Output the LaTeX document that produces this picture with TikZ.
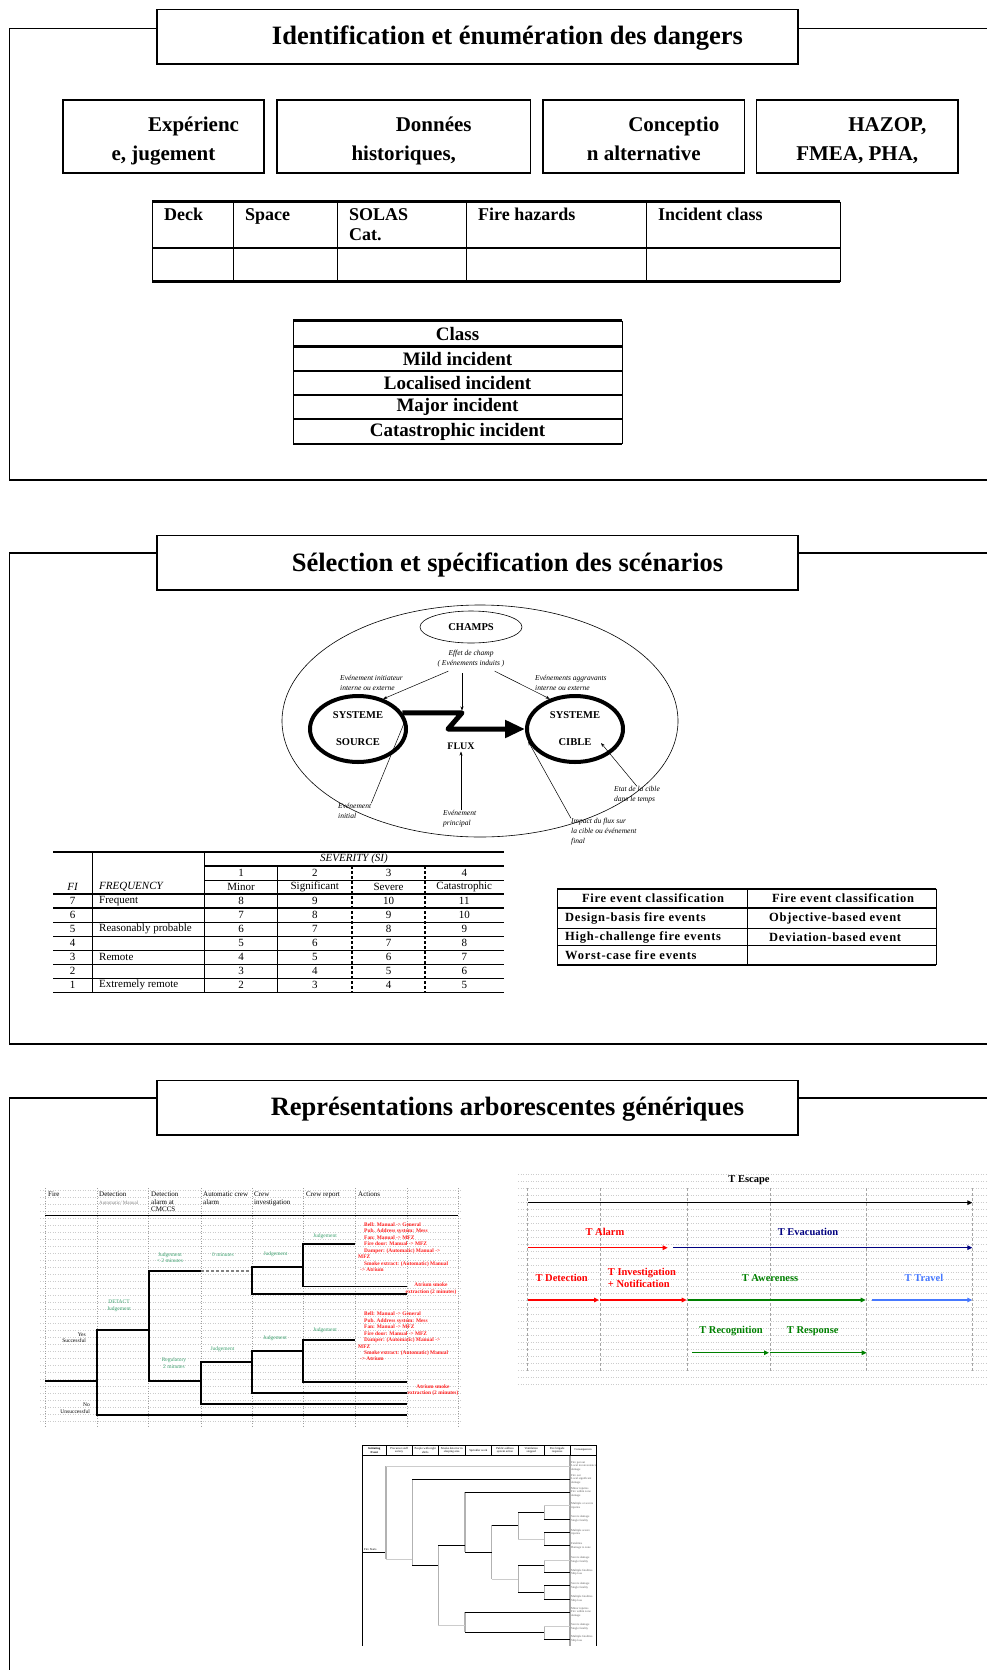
\documentclass[tikz,border=0pt]{standalone}
\usepackage{fontspec}
\setmainfont{Liberation Serif}
\newfontfamily\spacedfont[LetterSpace=6]{Liberation Serif}
\usetikzlibrary{arrows.meta,positioning,calc,shapes.geometric}

\definecolor{evnavy}{RGB}{0,0,128}
\definecolor{evgreen}{RGB}{0,128,0}
\definecolor{evsky}{RGB}{70,120,255}
\definecolor{jgreen}{RGB}{60,160,110}
\definecolor{actred}{RGB}{255,30,30}

\newcommand{\actionlist}{\hspace*{6pt}Bell: Manual -> General\\\hspace*{6pt}Pub. Address system: Mess\\\hspace*{6pt}Fan: Manual -> MFZ\\\hspace*{6pt}Fire door: Manual -> MFZ\\\hspace*{6pt}Damper: (Automatic) Manual ->\\MFZ\\\hspace*{6pt}Smoke extract: (Automatic) Manual\\\hspace*{2pt}-> Atrium}

\tikzset{
  titlebox/.style={draw,line width=1.5pt,fill=white,minimum width=641pt,minimum height=54.5pt,inner sep=0pt},
  titletxt/.style={anchor=base,inner sep=0pt,font=\bfseries\fontsize{26.5}{30}\selectfont},
  srcbox/.style={draw,line width=1.5pt,minimum height=73pt,inner sep=0pt},
  srcline/.style={anchor=base,inner sep=0pt,font=\bfseries\fontsize{21}{29}\selectfont},
  hcell/.style={anchor=north west,inner sep=0pt,align=left,font=\bfseries\fontsize{18}{20}\selectfont},
  ccell/.style={inner sep=0pt,font=\bfseries\fontsize{19}{20}\selectfont},
  sysell/.style={ellipse,draw,line width=4pt,minimum width=96pt,minimum height=66pt,inner sep=0pt,align=center,font=\bfseries\fontsize{10.5}{27}\selectfont},
  itlab/.style={inner sep=0pt,align=left,font=\itshape\fontsize{7.5}{10}\selectfont},
  evarrow/.style={-{Stealth[length=4pt,width=3pt]},line width=0.5pt},
  sevtxt/.style={inner sep=0pt,font=\fontsize{11}{12}\selectfont},
  firetxt/.style={inner sep=0pt,font=\spacedfont\bfseries\fontsize{12.5}{14}\selectfont},
  treehead/.style={anchor=north west,inner sep=0pt,align=left,font=\fontsize{7}{7.5}\selectfont},
  judge/.style={inner sep=0pt,align=center,text=jgreen,font=\fontsize{5.5}{6.5}\selectfont},
  acttxt/.style={anchor=north west,inner sep=0pt,align=left,text=actred,font=\bfseries\fontsize{5.4}{6.43}\selectfont},
  tlab/.style={inner sep=0pt,font=\bfseries\fontsize{10.5}{12}\selectfont},
  tarrow/.style={-{Triangle[length=5pt,width=4.5pt]},line width=1.3pt},
  branch/.style={line width=1.3pt},
  griddots/.style={gray!40,line width=0.4pt,dash pattern=on 0.5pt off 2pt},
  tinytxt/.style={inner sep=0pt,align=left,text=gray!70!black,font=\fontsize{3}{3.6}\selectfont},
}

\begin{document}
\begin{tikzpicture}[x=1pt,y=-1pt]
  \useasboundingbox (0,0) rectangle (987,1670);
  % cadres
  \draw[line width=1.3pt] (987,28.3) -| (9.4,480) -- (987,480);
  \draw[line width=1.3pt] (987,553) -| (9.4,1044) -- (987,1044);
  \draw[line width=1.3pt] (987,1098) -| (9.4,1672);

  % --- identification
  \node[titlebox] (ttl1) at (477.5,36.7) {};
  \node[titletxt] (ttl1t) at (507.5,45) {Identification et énumération des dangers};
  \foreach \nm/\cx/\bw/\la/\lb in {exp/163.5/201/Expérienc/{e, jugement},hist/403.75/253.5/Données/{historiques,},conc/643.75/201.5/Conceptio/n alternative,haz/857.25/201.5/{HAZOP,}/{FMEA, PHA,}}{
    \node[srcbox,minimum width=\bw pt] (\nm) at (\cx,136.5) {};
    \node[srcline] (\nm-a) at (\cx+30,131.5) {\la};
    \node[srcline] (\nm-b) at (\cx,160.5) {\lb};
  }

  % tableau des zones
  \foreach \yy in {201.7,248,281.7} \draw[line width=2.6pt] (152,\yy)--(840,\yy);
  \foreach \xx in {152,233.5,337,466,646,840} \draw[line width=1pt] (\xx,201.7)--(\xx,281.7);
  \node[hcell] (hdeck) at (164,208) {Deck};
  \node[hcell] (hspc) at (245,208) {Space};
  \node[hcell] (hsolas) at (349,208) {SOLAS\\Cat.};
  \node[hcell] (hfire) at (478,208) {Fire hazards};
  \node[hcell] (hcls) at (658,208) {Incident class};

  % classes
  \foreach \yy in {320.7,346.7,444} \draw[line width=2.6pt] (293,\yy)--(622,\yy);
  \foreach \yy in {370.7,395,419} \draw[line width=1.6pt] (293,\yy)--(622,\yy);
  \foreach \xx in {293,622} \draw[line width=1pt] (\xx,320.7)--(\xx,444);
  \foreach \tx/\yy [count=\k] in {Class/333.7,Mild incident/358.7,Localised incident/382.8,Major incident/407,Catastrophic incident/431.5}
    \node[ccell] (cls\k) at (457.5,\yy) {\tx};

  % --- scenarios
  \node[titlebox] (ttl2) at (477.5,562.7) {};
  \node[titletxt] (ttl2t) at (507.5,571) {Sélection et spécification des scénarios};
  \draw[line width=0.6pt] (480,721) ellipse [x radius=198pt,y radius=116pt];
  \node[ellipse,draw,line width=0.6pt,minimum width=102pt,minimum height=32pt,inner sep=0pt,font=\bfseries\fontsize{10.5}{12}\selectfont] (chp) at (471,627) {CHAMPS};
  \node[sysell] (src) at (358,729) {SYSTEME\\SOURCE};
  \node[sysell] (tgt) at (575,729) {SYSTEME\\CIBLE};
  \node[inner sep=0pt,font=\bfseries\fontsize{10}{12}\selectfont] (flx) at (461,746) {FLUX};
  \coordinate (fz1) at (462,712.5);
  \coordinate (fz2) at (448,729);
  \draw[line width=5pt,line join=round,-{Triangle[length=20pt,width=17pt]}] (src.20) -- (src.20 -| fz1) -- (fz2) -- (tgt.west);
  \node[itlab,align=center] (eff) at (471,658.5) {Effet de champ\\( Evénements induits )};
  \node[itlab,anchor=west] (ini) at (340,683) {Evénement initiateur\\interne ou externe};
  \node[itlab,anchor=west] (agg) at (535,683) {Evénements aggravants\\interne ou externe};
  \node[itlab,anchor=west] (inl) at (338,811) {Evénement\\initial};
  \node[itlab,anchor=west] (pri) at (443,819) {Evénement\\principal};
  \node[itlab,anchor=west] (fin) at (571,832) {Impact du flux sur\\la cible ou événement\\final};
  \node[itlab,anchor=west] (eta) at (614,795) {Etat de la cible\\dans le temps};
  \draw[evarrow] ([shift={(11,4)}]eff.south west) -- (src.50);
  \draw[evarrow,shorten <=6pt,shorten >=2pt] (eff.south -| fz1) -- (fz1);
  \draw[evarrow] ([shift={(-10,4)}]eff.south east) -- (tgt.130);
  \draw[evarrow] (inl.north east) -- (src.12);
  \draw[evarrow,shorten >=2pt] (flx.south |- pri.north) -- (flx.south);
  \draw[evarrow] (fin.north west) -- (tgt.195);
  \draw[evarrow] (eta.north) -- ($(tgt.center)+(26,14)$);

  % matrice de risque
  \draw[line width=1.6pt] (53,852)--(503.5,852);
  \draw[line width=1.6pt] (204.5,866)--(503.5,866);
  \draw[line width=0.6pt] (204.5,880)--(503.5,880);
  \foreach \yy in {894,908} \draw[line width=2.4pt] (53,\yy)--(503.5,\yy);
  \foreach \yy in {922,936,950,964,978,992} \draw[line width=0.6pt] (53,\yy)--(503.5,\yy);
  \foreach \xx in {92,204.5} \draw[line width=0.9pt] (\xx,852)--(\xx,992);
  \draw[line width=0.9pt] (277.5,866)--(277.5,992);
  \foreach \xx in {352,425} \draw[line width=1.1pt,densely dashed] (\xx,866)--(\xx,992);
  \node[sevtxt,font=\itshape\fontsize{11}{12}\selectfont] (sevh) at (354,859) {SEVERITY (SI)};
  \foreach \n/\xx in {1/241,2/314.75,3/388.5,4/464.25} \node[sevtxt] (sn\n) at (\xx,873) {\n};
  \foreach \w/\xx [count=\k] in {Minor/241,Significant/314.75,Severe/388.5,Catastrophic/464.25} \node[sevtxt] (sw\k) at (\xx,887) {\w};
  \node[sevtxt,font=\itshape\fontsize{11}{12}\selectfont] (hfi) at (72.5,887) {FI};
  \node[sevtxt,anchor=west,font=\itshape\fontsize{11}{12}\selectfont] (hfreq) at (99,887) {FREQUENCY};
  \foreach \fr/\fq/\va/\vb/\vc/\vd [count=\k] in {7/Frequent/8/9/10/11,6//7/8/9/10,5/Reasonably probable/6/7/8/9,4//5/6/7/8,3/Remote/4/5/6/7,2//3/4/5/6,1/Extremely remote/2/3/4/5}{
    \node[sevtxt] (fi\k) at (72.5,887+14*\k) {\fr};
    \node[sevtxt,anchor=west] (fq\k) at (99,887+14*\k) {\fq};
    \node[sevtxt] (va\k) at (241,887+14*\k) {\va};
    \node[sevtxt] (vb\k) at (314.75,887+14*\k) {\vb};
    \node[sevtxt] (vc\k) at (388.5,887+14*\k) {\vc};
    \node[sevtxt] (vd\k) at (464.25,887+14*\k) {\vd};
  }

  % classification des feux
  \foreach \yy in {888.6,908,965} \draw[line width=2pt] (557,\yy)--(936,\yy);
  \foreach \yy in {928,945.7} \draw[line width=0.8pt] (557,\yy)--(936,\yy);
  \foreach \xx in {557,747.6,936} \draw[line width=0.8pt] (\xx,888.6)--(\xx,965);
  \node[firetxt] (fh1) at (653,898.3) {Fire event classification};
  \node[firetxt] (fh2) at (843,898.3) {Fire event classification};
  \node[firetxt,anchor=west] (fl1) at (565,918) {Design-basis fire events};
  \node[firetxt,anchor=west] (fl2) at (565,937) {High-challenge fire events};
  \node[firetxt,anchor=west] (fl3) at (565,955.5) {Worst-case fire events};
  \node[firetxt,anchor=west] (fr1) at (769,918) {Objective-based event};
  \node[firetxt,anchor=west] (fr2) at (769,937) {Deviation-based event};

  % --- arbres
  \node[titlebox] (ttl3) at (477.5,1107.5) {};
  \node[titletxt] (ttl3t) at (507.5,1115.8) {Représentations arborescentes génériques};

  % arbre d'evenements
  \foreach \yy in {1190,1197,...,1425} \draw[griddots] (40,\yy)--(462,\yy);
  \foreach \xx in {45,97,148,201,252,303,355,407,458} \draw[griddots,gray!75] (\xx,1188)--(\xx,1427);
  \draw[line width=1pt] (45,1215)--(458,1215);
  \node[treehead] (ehfire) at (48,1192) {Fire};
  \node[treehead] (ehdet) at (99,1192) {Detection\\{\color{gray}\fontsize{5}{7.5}\selectfont Automatic/ Manual}};
  \node[treehead] (ehalm) at (151,1192) {Detection\\alarm at\\CMCCS};
  \node[treehead] (ehcrew) at (203,1192) {Automatic crew\\alarm};
  \node[treehead] (ehinv) at (254,1192) {Crew\\investigation};
  \node[treehead] (ehrep) at (306,1192) {Crew report};
  \node[treehead] (ehact) at (358,1192) {Actions};
  \draw[branch] (45,1381) -- (97,1381);
  \draw[branch] (149,1330) -| (97,1415) -- (407,1415);
  \draw[branch] (201,1271) -| (149,1381) -- (201,1381);
  \draw[branch,gray,densely dashed] (201,1271) -- (252,1271);
  \draw[branch] (303,1267) -| (252,1294) -- (407,1294);
  \draw[branch] (355,1244) -| (303,1286.7) -- (407,1286.7);
  \draw[branch] (252,1362) -| (201,1404) -- (407,1404);
  \draw[branch] (303,1351) -| (252,1393) -- (407,1393);
  \draw[branch] (355,1340) -| (303,1382) -- (407,1382);
  \node[inner sep=0pt,align=right,anchor=east,font=\fontsize{5.5}{6.5}\selectfont] (yes) at (86,1337.5) {Yes\\Successful};
  \node[inner sep=0pt,align=right,anchor=east,font=\fontsize{5.5}{6.5}\selectfont] (no) at (90,1408) {No\\Unsuccessful};
  \node[judge] (jdet) at (119,1306) {DETACT\\Judgement};
  \node[judge] (jal1) at (170,1257.5) {Judgement\\< 2 minutes};
  \node[judge] (jal2) at (174,1363) {Regulatory\\2 minutes};
  \node[judge] (jcr1) at (223,1254.5) {0 minutes};
  \node[judge] (jcr2) at (222.5,1349.4) {Judgement};
  \node[judge] (jin1) at (275.5,1254.5) {Judgement};
  \node[judge] (jin2) at (275,1338) {Judgement};
  \node[judge] (jrp1) at (325,1235.7) {Judgement};
  \node[judge] (jrp2) at (325,1330) {Judgement};
  \node[acttxt] (act1) at (358,1222.5) {\actionlist};
  \node[acttxt] (act2) at (358,1312) {\actionlist};
  \node[inner sep=0pt,align=center,text=actred,font=\bfseries\fontsize{5.4}{6.4}\selectfont] (atr1) at (431,1288.5) {Atrium smoke\\extraction (2 minutes)};
  \node[inner sep=0pt,align=center,text=actred,font=\bfseries\fontsize{5.4}{6.4}\selectfont] (atr2) at (433,1390) {Atrium smoke\\extraction (2 minutes)};

  % chronologie
  \foreach \yy in {1174,1181,...,1386} \draw[griddots] (518,\yy)--(987,\yy);
  \foreach \xx in {527.7,600,687.7,770,866.7,972.3} \draw[gray!70,line width=0.7pt,densely dashed] (\xx,1188)--(\xx,1372);
  \foreach \xa/\xb/\yy/\cc in {527.7/972.3/1202.7/black,527.7/667.7/1247.7/red,673.3/972.3/1247.7/evnavy,527.7/599/1300/red,600/686.7/1300/red,687.7/865.7/1300/evgreen,871.7/972.3/1300/evsky,692.3/769/1352.7/evgreen,770/866.7/1352.7/evgreen}
    \draw[tarrow,\cc] (\xa,\yy) -- (\xb,\yy);
  \node[tlab] (tesc) at (749,1180) {T Escape};
  \node[tlab,text=red] (talm) at (605,1232) {T Alarm};
  \node[tlab,text=evnavy] (tevc) at (808,1232) {T Evacuation};
  \node[tlab,text=red] (tdet) at (561.7,1278) {T Detection};
  \node[tlab,text=red,anchor=west,align=left] (tinv) at (607.7,1278.3) {T Investigation\\+ Notification};
  \node[tlab,text=evgreen] (tawr) at (770,1278) {T Awereness};
  \node[tlab,text=evsky] (ttrv) at (924,1278) {T Travel};
  \node[tlab,text=evgreen] (trec) at (731,1331) {T Recognition};
  \node[tlab,text=evgreen] (tres) at (812.7,1331) {T Response};

  % arbre des consequences
  \draw[line width=0.6pt] (362.7,1445) rectangle (596.7,1455.7);
  \foreach \xx in {386,412.3,438.3,465,491.7,518.3,544.3,570} \draw[line width=0.5pt] (\xx,1445)--(\xx,1455.7);
  \draw[line width=0.8pt] (362.7,1455.7)--(362.7,1646);
  \draw[gray!70,line width=1.2pt] (570,1455.7)--(570,1646);
  \draw[line width=0.6pt] (596.7,1455.7)--(596.7,1646);
  \foreach \tx/\xx [count=\k] in {{\textbf{Initiating}\\\textbf{Event}}/374.3,{Precursor staff\\survey}/399.2,{People with night\\shifts}/425.3,{Smoke detector in\\sleeping area}/451.7,{Sprinkler work}/478.3,{Public address\\system action}/505,{Ventilation\\stopped}/531.3,{Fire brigade\\response}/557.2,{Consequences}/583.3}
    \node[tinytxt,align=center,text=black] (ch\k) at (\xx,1450.3) {\tx};
  \node[tinytxt,anchor=south west,text=black] (fstart) at (364,1551) {Fire Starts};
  \draw[line width=0.8pt] (362.7,1552.3)--(386,1552.3);
  \foreach \xa/\ya/\yb in {386/1466/1559,412.3/1479.3/1565.7,438.3/1545.7/1625.7,465/1492.3/1552.3,491.7/1525/1579,518.3/1512.3/1539,544.3/1505.7/1519,544.3/1532.3/1545.7,518.3/1565.7/1592.3,544.3/1560/1572.3,544.3/1585.7/1599,465/1612.3/1632.3,544.3/1626.7/1639}
    \draw[gray!60,line width=1.3pt] (\xa,\ya)--(\xa,\yb);
  \foreach \xa/\xb/\yy in {412.3/570/1479.3,412.3/438.3/1565.7,438.3/465/1545.7,465/570/1492.3,465/491.7/1552.3,491.7/518.3/1525,518.3/544.3/1512.3,544.3/570/1519,544.3/570/1532.3,544.3/570/1545.7,518.3/544.3/1565.7,544.3/570/1572.3,518.3/544.3/1592.3,544.3/570/1585.7,544.3/570/1599,465/570/1612.3,465/544.3/1632.3,544.3/570/1639}
    \draw[line width=0.8pt] (\xa,\yy)--(\xb,\yy);
  \foreach \xa/\xb/\yy in {386/570/1466,386/412.3/1559,544.3/570/1505.7,518.3/544.3/1539,491.7/518.3/1579,544.3/570/1560,438.3/465/1625.7,544.3/570/1626.7}
    \draw[gray!40,line width=0.8pt] (\xa,\yy)--(\xb,\yy);
  \foreach \yy/\tx [count=\k] in {1466/{Fire put out\\Local inconvenience\\damage},1479.3/{Fire out\\Local significant\\damage},1492.3/{Minor injuries\\Fire within zone\\damage},1505.7/{Multiple or severe\\injuries},1519/{Severe damage\\Single fatality},1532.3/{Multiple severe\\injuries},1545.7/{Fatalities\\Damage to zone},1560/{Severe damage\\Single fatality},1572.3/{Multiple fatalities\\Ship loss},1585.7/{Severe damage\\Single fatality},1599/{Multiple fatalities\\Ship loss},1612.3/{Minor injuries\\Fire within zone\\damage},1626.7/{Severe damage\\Single fatality},1639/{Multiple fatalities\\Ship loss}}
    \node[tinytxt,anchor=west] (cq\k) at (571,\yy) {\tx};
\end{tikzpicture}
\end{document}
